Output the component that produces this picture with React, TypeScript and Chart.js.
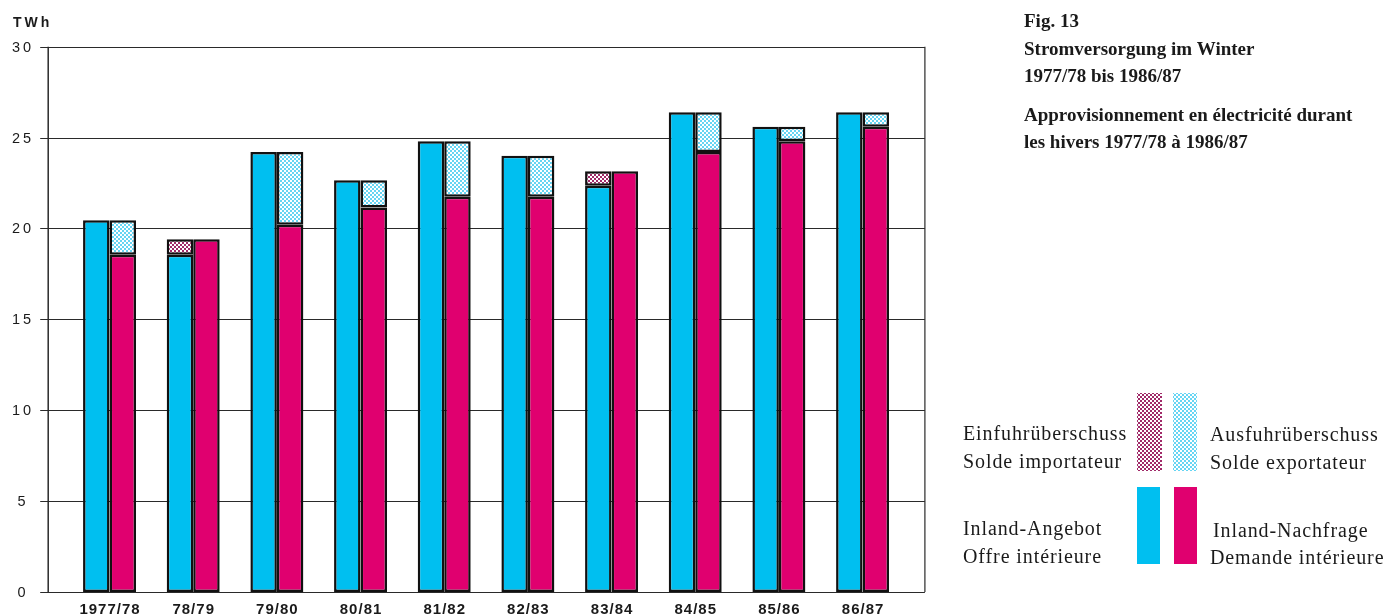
import React, { useEffect, useRef } from "react";
import { Chart, registerables } from "chart.js";

Chart.register(...registerables);

const CATEGORIES = ["1977/78", "78/79", "79/80", "80/81", "81/82", "82/83", "83/84", "84/85", "85/86", "86/87"];
const SUPPLY = [20.45, 18.55, 24.2, 22.65, 24.8, 24.0, 22.35, 26.4, 25.6, 26.4];
const IMPORT_SURPLUS = [null, 0.85, null, null, null, null, 0.8, null, null, null];
const DEMAND = [18.55, 19.4, 20.2, 21.15, 21.75, 21.75, 23.15, 24.2, 24.8, 25.6];
const EXPORT_SURPLUS = [1.9, null, 4.0, 1.5, 3.05, 2.25, null, 2.2, 0.8, 0.8];
const Y_TICKS = [0, 5, 10, 15, 20, 25, 30];
const Y_UNIT = "TWh";
const TITLE_LINES = [
  "Fig. 13",
  "Stromversorgung im Winter",
  "1977/78 bis 1986/87",
  "Approvisionnement en électricité durant",
  "les hivers 1977/78 à 1986/87",
];
const LEGEND_IMPORT = ["Einfuhrüberschuss", "Solde importateur"];
const LEGEND_EXPORT = ["Ausfuhrüberschuss", "Solde exportateur"];
const LEGEND_SUPPLY = ["Inland-Angebot", "Offre intérieure"];
const LEGEND_DEMAND = ["Inland-Nachfrage", "Demande intérieure"];

const CYAN = "#00bff0";
const MAGENTA = "#e0006f";
const IMPORT_DOT = "#a02a68";
const EXPORT_DOT = "rgba(0,185,235,0.6)";

function makePattern(color: string): CanvasPattern | string {
  const c = document.createElement("canvas");
  c.width = 4;
  c.height = 4;
  const g = c.getContext("2d");
  if (!g) return color;
  g.fillStyle = "#ffffff";
  g.fillRect(0, 0, 4, 4);
  g.fillStyle = color;
  g.fillRect(0, 0, 2, 2);
  g.fillRect(2, 2, 2, 2);
  const p = g.createPattern(c, "repeat");
  return p || color;
}

function setSpacing(ctx: any, v: string) {
  try {
    ctx.letterSpacing = v;
  } catch (e) {}
}

export default function App() {
  const ref = useRef<HTMLCanvasElement | null>(null);

  useEffect(() => {
    if (!ref.current) return;
    const importPat = makePattern(IMPORT_DOT);
    const exportPat = makePattern(EXPORT_DOT);

    const decor = {
      id: "decor",
      beforeDatasetsDraw(chart: any) {
        const ctx = chart.ctx;
        const y = chart.scales.y;
        const area = chart.chartArea;
        const frameL = area.left - 19.5;
        const frameR = area.right + 20.5;
        ctx.save();
        ctx.strokeStyle = "#2a2a2a";
        ctx.lineWidth = 1.2;
        Y_TICKS.forEach((t) => {
          const py = Math.round(y.getPixelForValue(t)) + 0.5;
          ctx.beginPath();
          ctx.moveTo(frameL - 8, py);
          ctx.lineTo(frameR, py);
          ctx.stroke();
        });
        ctx.lineWidth = 1.5;
        ctx.beginPath();
        ctx.moveTo(frameL, y.getPixelForValue(30));
        ctx.lineTo(frameL, y.getPixelForValue(0));
        ctx.stroke();
        ctx.lineWidth = 1.2;
        ctx.beginPath();
        ctx.moveTo(frameR, y.getPixelForValue(30));
        ctx.lineTo(frameR, y.getPixelForValue(0));
        ctx.stroke();
        ctx.restore();
      },
      afterDraw(chart: any) {
        const ctx = chart.ctx;
        const x = chart.scales.x;
        const y = chart.scales.y;
        ctx.save();
        ctx.fillStyle = "#1a1a1a";
        // y labels
        ctx.font = "14.5px 'Liberation Sans'";
        setSpacing(ctx, "3px");
        ctx.textAlign = "center";
        ctx.textBaseline = "middle";
        Y_TICKS.forEach((t) => {
          ctx.fillText(String(t), 23, y.getPixelForValue(t) + 1);
        });
        // unit
        ctx.font = "bold 14px 'Liberation Sans'";
        setSpacing(ctx, "3px");
        ctx.textAlign = "left";
        ctx.textBaseline = "alphabetic";
        ctx.fillText(Y_UNIT, 13, 27);
        // x labels
        ctx.font = "bold 15px 'Liberation Sans'";
        setSpacing(ctx, "1px");
        ctx.textAlign = "center";
        ctx.textBaseline = "alphabetic";
        CATEGORIES.forEach((c, i) => {
          ctx.fillText(c, x.getPixelForValue(i) + 0.5, 614);
        });
        setSpacing(ctx, "0px");
        // title
        ctx.font = "bold 19px 'Liberation Serif'";
        ctx.textAlign = "left";
        const tb = [27, 55, 82, 121, 148];
        TITLE_LINES.forEach((s, i) => ctx.fillText(s, 1024, tb[i]));
        // legend texts
        ctx.font = "20px 'Liberation Serif'";
        setSpacing(ctx, "0.9px");
        ctx.fillText(LEGEND_IMPORT[0], 963, 440);
        ctx.fillText(LEGEND_IMPORT[1], 963, 468);
        ctx.fillText(LEGEND_SUPPLY[0], 963, 535);
        ctx.fillText(LEGEND_SUPPLY[1], 963, 563);
        ctx.fillText(LEGEND_EXPORT[0], 1210, 441);
        ctx.fillText(LEGEND_EXPORT[1], 1210, 469);
        ctx.fillText(LEGEND_DEMAND[0], 1213, 537);
        ctx.fillText(LEGEND_DEMAND[1], 1210, 564);
        setSpacing(ctx, "0px");
        // legend swatches
        ctx.fillStyle = importPat;
        ctx.fillRect(1137, 393, 25, 78);
        ctx.fillStyle = exportPat;
        ctx.fillRect(1173, 393, 24, 78);
        ctx.fillStyle = CYAN;
        ctx.fillRect(1137, 487, 23, 77);
        ctx.fillStyle = MAGENTA;
        ctx.fillRect(1174, 487, 23, 77);
        ctx.restore();
      },
    };

    const border = "#111111";
    const bw = 2.5;
    const chart = new Chart(ref.current, {
      type: "bar",
      data: {
        labels: CATEGORIES,
        datasets: [
          { label: "Inland-Angebot", data: SUPPLY, stack: "supply", backgroundColor: CYAN, borderColor: border, borderWidth: bw, borderSkipped: false },
          { label: "Einfuhrüberschuss", data: IMPORT_SURPLUS, stack: "supply", backgroundColor: importPat as any, borderColor: border, borderWidth: bw, borderSkipped: false },
          { label: "Inland-Nachfrage", data: DEMAND, stack: "demand", backgroundColor: MAGENTA, borderColor: border, borderWidth: bw, borderSkipped: false },
          { label: "Ausfuhrüberschuss", data: EXPORT_SURPLUS, stack: "demand", backgroundColor: exportPat as any, borderColor: border, borderWidth: bw, borderSkipped: false },
        ] as any,
      },
      options: {
        animation: false,
        responsive: false,
        devicePixelRatio: 1,
        layout: { padding: { left: 67.7, right: 481.6, top: 46.7, bottom: 23 } },
        datasets: { bar: { categoryPercentage: 0.633, barPercentage: 1 } } as any,
        plugins: { legend: { display: false }, tooltip: { enabled: false }, title: { display: false } },
        scales: {
          x: { display: false, stacked: true, offset: true },
          y: { display: false, stacked: true, min: 0, max: 30, ticks: { stepSize: 5 } },
        },
      },
      plugins: [decor],
    });
    return () => chart.destroy();
  }, []);

  return (
    <div style={{ position: "absolute", left: 0, top: 0, width: 1386, height: 615, background: "#fff" }}>
      <canvas ref={ref} width={1386} height={615} style={{ width: 1386, height: 615, display: "block" }} />
    </div>
  );
}
